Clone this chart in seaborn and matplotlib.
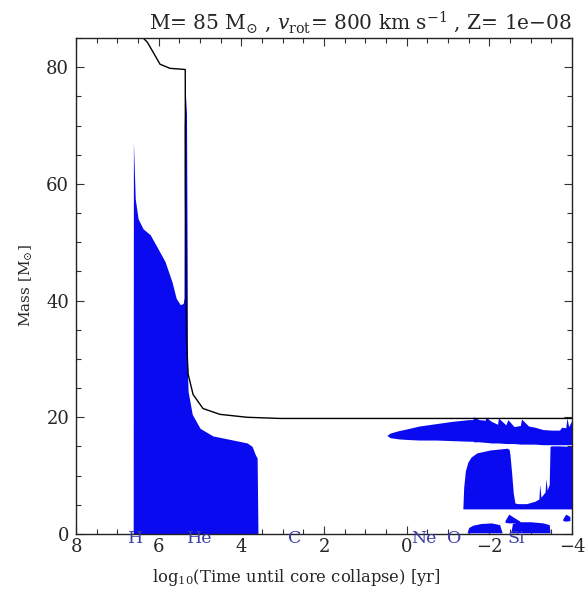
import numpy as np
import pandas as pd
import matplotlib
matplotlib.use("Agg")
import matplotlib.pyplot as plt
import seaborn as sns

# surface mass (black line)
surf_t = [6.38, 6.28, 6.14, 5.97, 5.73, 5.36, 5.355, 5.33, 5.31, 5.29, 5.17, 4.93, 4.52, 3.86, 3.06, 2.0, 0.0, -2.0, -4.0]
surf_m = [85.0, 84.3, 82.6, 80.5, 79.8, 79.6, 60.0, 33.0, 30.4, 27.4, 23.9, 21.5, 20.5, 20.0, 19.8, 19.8, 19.8, 19.8, 19.8]

# H / He burning convective core (from 0 up to core_top)
core_t = [6.62, 6.615, 6.57, 6.50, 6.38, 6.21, 6.02, 5.85, 5.68, 5.58, 5.48, 5.41, 5.39, 5.385, 5.36, 5.33, 5.31,
          5.305, 5.29, 5.19, 5.00, 4.69, 4.27, 3.86, 3.74, 3.67, 3.62, 3.60]
core_top = [0.0, 67.2, 57.4, 54.0, 52.3, 51.3, 48.9, 46.7, 43.2, 40.4, 39.3, 39.5, 40.5, 70.0, 76.0, 72.0, 40.0,
            27.4, 24.4, 20.5, 18.1, 16.8, 16.2, 15.6, 15.0, 13.7, 13.0, 0.0]

# convective envelope shell after carbon burning
shell_t = [0.48, 0.40, 0.20, 0.00, -0.30, -0.70, -1.10, -1.50, -1.60, -1.62, -1.75, -1.90, -1.92, -2.05, -2.20,
           -2.22, -2.40, -2.45, -2.60, -2.75, -2.78, -2.95, -3.10, -3.30, -3.50, -3.70, -3.75, -3.85, -3.88, -3.92, -4.00]
shell_hi = [16.9, 17.3, 17.7, 18.0, 18.5, 18.9, 19.3, 19.6, 19.6, 20.1, 19.6, 19.5, 20.0, 19.3, 18.8,
            19.9, 18.7, 19.6, 18.4, 18.6, 19.7, 18.5, 18.3, 17.9, 17.8, 17.8, 18.3, 18.2, 19.9, 18.4, 19.5]
shell_lo = [16.9, 16.5, 16.3, 16.2, 16.1, 16.1, 16.0, 15.9, 15.9, 15.8, 15.8, 15.7, 15.7, 15.6, 15.6,
            15.6, 15.5, 15.5, 15.5, 15.4, 15.4, 15.4, 15.4, 15.3, 15.3, 15.3, 15.3, 15.3, 15.3, 15.3, 15.3]

# advanced burning shell zones
blob_t = [-1.36, -1.38, -1.42, -1.48, -1.56, -1.70, -2.02, -2.43, -2.48, -2.50, -2.54, -2.58, -2.62, -2.70, -2.90,
          -3.10, -3.20, -3.22, -3.25, -3.35, -3.37, -3.40, -3.45, -3.47, -3.50, -3.70, -4.00]
blob_hi = [4.4, 8.0, 10.8, 12.3, 13.2, 13.9, 14.4, 14.7, 14.5, 13.6, 10.5, 7.0, 5.3, 5.2, 5.2,
           5.6, 6.0, 8.5, 6.3, 7.2, 9.5, 7.5, 8.5, 15.0, 15.1, 15.1, 15.0]
blob_lo = 4.3

small_a_t = [-1.46, -1.50, -1.60, -1.80, -2.05, -2.25, -2.31]
small_a_hi = [0.2, 1.1, 1.5, 1.8, 1.9, 1.6, 0.2]
small_b_t = [-2.52, -2.56, -2.70, -3.00, -3.30, -3.45, -3.47]
small_b_hi = [0.2, 1.8, 2.1, 2.1, 1.9, 1.6, 0.2]
bump_t = [-2.38, -2.47, -2.58, -2.74]
bump_hi = [2.3, 3.4, 2.9, 2.2]
bump_lo = [2.0, 1.9, 1.9, 2.0]
tip_t = [-3.78, -3.85, -3.95]
tip_hi = [2.6, 3.4, 3.0]
tip_lo = [2.3, 2.2, 2.3]

phase_names = ["H", "He", "C", "Ne", "O", "Si"]
phase_t = [6.55, 5.00, 2.70, -0.42, -1.14, -2.65]

sns.set_style("ticks")
plt.rcParams['font.family'] = ['DejaVu Serif']
plt.rcParams['mathtext.fontset'] = 'dejavuserif'

fig = plt.figure(figsize=(5.86, 5.89), dpi=100)
ax = fig.add_axes([0.130, 0.0934, 0.846, 0.8421])

blue = '#0a0af0'
ax.fill_between(core_t, 0, core_top, color=blue, lw=0)
ax.fill_between(shell_t, shell_lo, shell_hi, color=blue, lw=0)
ax.fill_between(blob_t, blob_lo, blob_hi, color=blue, lw=0)
ax.fill_between(small_a_t, 0.2, small_a_hi, color=blue, lw=0)
ax.fill_between(small_b_t, 0.2, small_b_hi, color=blue, lw=0)
ax.fill_between(bump_t, bump_lo, bump_hi, color=blue, lw=0)
ax.fill_between(tip_t, tip_lo, tip_hi, color=blue, lw=0)

surf = pd.DataFrame({'t': surf_t, 'm': surf_m})
sns.lineplot(data=surf, x='t', y='m', sort=False, estimator=None, color='black', lw=1.0, ax=ax)

ax.set_xlim(8, -4)
ax.set_ylim(0, 85)
ax.set_xticks([8, 6, 4, 2, 0, -2, -4])
ax.set_xticks(np.arange(-4, 8.01, 0.5), minor=True)
ax.set_yticks([0, 20, 40, 60, 80])
ax.set_yticks(np.arange(0, 85.1, 5), minor=True)
ax.tick_params(which='both', direction='in', top=True, right=True, labelsize=13, color='#333333')
ax.tick_params(which='major', length=6, width=0.8)
ax.tick_params(which='minor', length=3.5, width=0.8)
ax.tick_params(axis='x', pad=3)
ax.tick_params(axis='y', pad=5)
for s in ax.spines.values():
    s.set_linewidth(1.0)
    s.set_color('#222222')

ax.set_xlabel(r'log$_{10}$(Time until core collapse) [yr]', fontsize=11.8)
ax.xaxis.set_label_coords(0.444, -0.066)
ax.set_ylabel(r'Mass [M$_{\odot}$]', fontsize=11, labelpad=8)
ax.set_title(r'M= 85 M$_{\odot}$ , $v_{\rm rot}$= 800 km s$^{-1}$ , Z= 1e$-$08', fontsize=14.5, loc='right', pad=6)

for name, t in zip(phase_names, phase_t):
    ax.text(t, -0.019, name, transform=ax.get_xaxis_transform(), ha='center', va='baseline',
            color='#3c3ca8', fontsize=12.5, zorder=10, clip_on=False)

fig.savefig('out.png', dpi=100)
